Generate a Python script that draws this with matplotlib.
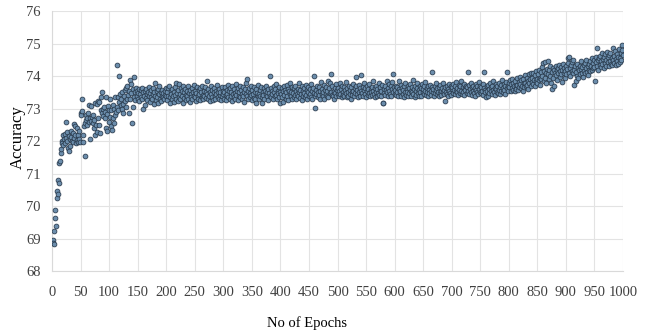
"""
Accuracy per epoch scatter chart
"""

import matplotlib
matplotlib.use("Agg")
import matplotlib.pyplot as plt
import numpy as np

# accuracy values, one per epoch, in blocks of 100
acc_001_100 = [68.95, 68.86, 68.82, 69.22, 69.88, 69.64, 69.40, 70.45, 70.26, 70.36,
               70.80, 70.72, 71.32, 71.38, 71.62, 71.75, 72.00, 71.93, 72.18, 71.88,
               72.05, 71.95, 72.22, 72.10, 72.58, 72.00, 72.28, 71.80, 72.15, 71.70,
               72.05, 71.85, 72.30, 72.12, 72.00, 72.25, 71.98, 72.52, 72.08, 72.45,
               72.20, 71.95, 72.40, 72.02, 72.18, 71.98, 72.30, 72.05, 71.97, 72.85,
               72.80, 73.28, 72.92, 71.98, 72.20, 72.45, 71.55, 72.55, 72.80, 72.65,
               72.50, 72.72, 72.85, 72.60, 73.10, 72.70, 72.05, 72.62, 73.08, 72.75,
               72.55, 72.80, 72.40, 72.65, 72.20, 73.18, 72.48, 73.15, 72.28, 72.72,
               73.22, 72.50, 73.20, 72.25, 72.95, 73.35, 72.85, 73.50, 72.78, 72.98,
               73.05, 72.70, 72.90, 73.35, 72.40, 72.82, 72.30, 73.08, 72.95, 72.60]
acc_101_200 = [72.75, 73.30, 72.45, 72.95, 72.35, 73.10, 72.70, 72.55, 73.00, 72.80,
               73.35, 72.90, 74.34, 73.05, 73.35, 72.95, 74.00, 73.20, 73.45, 73.10,
               73.28, 73.00, 73.50, 73.15, 72.85, 73.40, 73.22, 73.58, 73.05, 73.62,
               73.30, 73.70, 73.42, 72.86, 73.55, 73.88, 73.30, 73.75, 73.48, 72.55,
               73.60, 73.05, 73.35, 73.98, 73.50, 73.25, 73.62, 73.40, 73.55, 73.30,
               73.48, 73.60, 73.22, 73.45, 73.58, 73.35, 73.62, 73.28, 73.50, 73.00,
               73.40, 73.10, 73.55, 73.32, 73.60, 73.45, 73.25, 73.52, 73.38, 73.65,
               73.20, 73.48, 73.35, 73.58, 73.28, 73.45, 73.62, 73.15, 73.50, 73.78,
               73.40, 73.25, 73.55, 73.35, 73.60, 73.18, 73.45, 73.68, 73.30, 73.52,
               73.22, 73.40, 73.58, 73.35, 73.48, 73.28, 73.55, 73.42, 73.62, 73.38]
acc_201_300 = [73.50, 73.25, 73.62, 73.40, 73.70, 73.35, 73.18, 73.55, 73.45, 73.28,
               73.60, 73.38, 73.52, 73.20, 73.65, 73.42, 73.30, 73.80, 73.48, 73.22,
               73.58, 73.35, 73.75, 73.45, 73.28, 73.62, 73.40, 73.55, 73.18, 73.70,
               73.50, 73.32, 73.60, 73.42, 73.25, 73.55, 73.38, 73.68, 73.30, 73.48,
               73.20, 73.58, 73.45, 73.35, 73.62, 73.28, 73.52, 73.40, 73.72, 73.35,
               73.55, 73.22, 73.48, 73.65, 73.38, 73.30, 73.58, 73.45, 73.25, 73.62,
               73.50, 73.35, 73.70, 73.42, 73.28, 73.55, 73.40, 73.65, 73.32, 73.50,
               73.85, 73.45, 73.30, 73.60, 73.38, 73.52, 73.22, 73.68, 73.45, 73.35,
               73.58, 73.25, 73.50, 73.62, 73.40, 73.30, 73.55, 73.45, 73.72, 73.35,
               73.52, 73.28, 73.60, 73.42, 73.50, 73.25, 73.65, 73.38, 73.55, 73.45]
acc_301_400 = [73.50, 73.30, 73.65, 73.42, 73.25, 73.58, 73.45, 73.72, 73.35, 73.55,
               73.28, 73.62, 73.40, 73.50, 73.22, 73.68, 73.45, 73.35, 73.60, 73.48,
               73.30, 73.75, 73.42, 73.55, 73.25, 73.62, 73.38, 73.50, 73.70, 73.35,
               73.58, 73.28, 73.45, 73.65, 73.40, 73.52, 73.20, 73.60, 73.45, 73.78,
               73.90, 73.38, 73.55, 73.30, 73.62, 73.48, 73.35, 73.70, 73.42, 73.25,
               73.58, 73.45, 73.65, 73.32, 73.50, 73.28, 73.60, 73.16, 73.48, 73.38,
               73.72, 73.45, 73.30, 73.58, 73.40, 73.65, 73.35, 73.17, 73.52, 73.42,
               73.62, 73.28, 73.55, 73.45, 73.70, 73.38, 73.50, 73.25, 73.60, 73.48,
               74.01, 73.40, 73.62, 73.35, 73.55, 73.45, 73.28, 73.68, 73.50, 73.38,
               73.60, 73.42, 73.75, 73.30, 73.55, 73.48, 73.65, 73.35, 73.16, 73.52]
acc_401_500 = [73.45, 73.62, 73.35, 73.55, 73.20, 73.68, 73.42, 73.58, 73.30, 73.50,
               73.72, 73.40, 73.60, 73.25, 73.55, 73.45, 73.78, 73.38, 73.52, 73.30,
               73.65, 73.48, 73.35, 73.62, 73.42, 73.70, 73.28, 73.55, 73.45, 73.60,
               73.38, 73.80, 73.50, 73.32, 73.58, 73.45, 73.68, 73.25, 73.55, 73.40,
               73.62, 73.48, 73.35, 73.72, 73.42, 73.58, 73.30, 73.65, 73.50, 73.38,
               73.60, 73.45, 73.75, 73.35, 73.55, 73.28, 73.62, 74.00, 73.48, 73.40,
               73.02, 73.58, 73.45, 73.70, 73.35, 73.52, 73.42, 73.65, 73.30, 73.55,
               73.82, 73.45, 73.60, 73.38, 73.50, 73.72, 73.28, 73.58, 73.45, 73.65,
               73.40, 73.55, 73.85, 73.35, 73.62, 73.48, 73.78, 74.06, 73.50, 73.42,
               73.68, 73.38, 73.55, 73.30, 73.62, 73.48, 73.75, 73.40, 73.58, 73.45]
acc_501_600 = [73.62, 73.40, 73.55, 73.78, 73.45, 73.60, 73.35, 73.70, 73.50, 73.42,
               73.65, 73.38, 73.58, 73.82, 73.48, 73.35, 73.62, 73.52, 73.40, 73.70,
               73.45, 73.58, 73.30, 73.65, 73.50, 73.42, 73.75, 73.55, 73.38, 73.62,
               73.48, 73.68, 73.98, 73.45, 73.58, 73.35, 73.72, 73.50, 73.62, 73.40,
               73.55, 74.03, 73.48, 73.65, 73.38, 73.58, 73.80, 73.45, 73.62, 73.35,
               73.55, 73.70, 73.42, 73.60, 73.48, 73.75, 73.38, 73.58, 73.50, 73.65,
               73.42, 73.55, 73.85, 73.45, 73.62, 73.35, 73.70, 73.52, 73.40, 73.60,
               73.48, 73.78, 73.42, 73.58, 73.65, 73.38, 73.55, 73.72, 73.16, 73.18,
               73.60, 73.48, 73.70, 73.42, 73.58, 73.85, 73.50, 73.62, 73.40, 73.75,
               73.55, 73.45, 73.68, 73.38, 73.60, 73.82, 74.05, 73.52, 73.65, 73.45]
acc_601_700 = [73.58, 73.42, 73.70, 73.50, 73.65, 73.38, 73.60, 73.85, 73.48, 73.55,
               73.40, 73.72, 73.62, 73.45, 73.58, 73.35, 73.68, 73.50, 73.80, 73.42,
               73.60, 73.52, 73.70, 73.38, 73.62, 73.48, 73.75, 73.55, 73.40, 73.65,
               73.50, 73.88, 73.45, 73.60, 73.35, 73.70, 73.55, 73.42, 73.62, 73.78,
               73.48, 73.58, 73.40, 73.68, 73.52, 73.62, 73.38, 73.75, 73.50, 73.60,
               73.45, 73.70, 73.55, 73.82, 73.42, 73.62, 73.50, 73.68, 73.38, 73.58,
               73.48, 73.72, 73.55, 73.42, 73.65, 74.12, 73.52, 73.60, 73.40, 73.70,
               73.48, 73.58, 73.78, 73.45, 73.62, 73.52, 73.38, 73.65, 73.48, 73.72,
               73.55, 73.42, 73.62, 73.50, 73.80, 73.45, 73.58, 73.22, 73.65, 73.52,
               73.70, 73.45, 73.60, 73.38, 73.75, 73.55, 73.48, 73.68, 73.42, 73.60]
acc_701_800 = [73.65, 73.48, 73.75, 73.58, 73.45, 73.70, 73.55, 73.82, 73.50, 73.62,
               73.42, 73.72, 73.58, 73.48, 73.68, 73.55, 73.85, 73.45, 73.65, 73.52,
               73.75, 73.42, 73.62, 73.58, 73.70, 73.48, 73.65, 74.12, 73.55, 73.45,
               73.72, 73.60, 73.50, 73.78, 73.42, 73.65, 73.55, 73.70, 73.48, 73.62,
               73.40, 73.75, 73.58, 73.50, 73.68, 73.45, 73.82, 73.60, 73.52, 73.70,
               73.48, 73.65, 73.55, 73.75, 73.42, 73.62, 74.12, 73.58, 73.50, 73.34,
               73.68, 73.55, 73.40, 73.72, 73.60, 73.48, 73.78, 73.55, 73.65, 73.45,
               73.70, 73.58, 73.85, 73.50, 73.62, 73.42, 73.75, 73.60, 73.52, 73.68,
               73.48, 73.80, 73.58, 73.65, 73.45, 73.72, 73.55, 73.88, 73.62, 73.50,
               73.75, 73.58, 73.68, 73.45, 73.82, 74.13, 73.62, 73.70, 73.55, 73.78]
acc_801_900 = [73.65, 73.88, 73.55, 73.75, 73.62, 73.92, 73.58, 73.80, 73.68, 73.55,
               73.85, 73.70, 73.60, 73.95, 73.72, 73.58, 73.82, 73.65, 73.98, 73.75,
               73.62, 73.88, 73.70, 73.55, 73.92, 73.78, 73.65, 74.02, 73.80, 73.68,
               73.95, 73.72, 73.85, 73.60, 74.05, 73.78, 73.90, 73.70, 74.08, 73.82,
               73.95, 73.75, 74.10, 73.88, 73.68, 74.02, 73.85, 74.15, 73.92, 73.78,
               74.05, 73.88, 74.20, 73.95, 73.72, 74.12, 73.90, 74.28, 74.00, 74.39,
               73.85, 74.15, 74.42, 73.95, 74.10, 73.78, 74.22, 74.05, 74.47, 73.92,
               74.18, 74.30, 74.00, 73.80, 73.59, 74.12, 74.25, 73.95, 74.20, 73.70,
               74.08, 74.32, 74.02, 74.18, 73.88, 74.25, 74.10, 74.35, 73.98, 74.15,
               74.28, 74.05, 73.82, 74.20, 74.38, 74.10, 74.25, 73.95, 74.15, 74.30]
acc_901_1000 = [74.05, 74.22, 74.40, 74.54, 74.10, 74.58, 74.25, 74.00, 74.35, 74.15,
                74.42, 74.08, 74.50, 73.72, 74.20, 74.30, 73.85, 74.12, 74.38, 74.00,
                74.25, 73.95, 74.18, 74.32, 74.05, 74.22, 74.45, 74.10, 74.28, 73.98,
                74.35, 74.15, 74.40, 74.08, 74.25, 74.48, 74.12, 74.30, 74.02, 74.38,
                74.20, 74.45, 74.15, 74.32, 74.55, 74.18, 74.40, 74.25, 74.50, 74.28,
                73.86, 74.42, 74.58, 74.85, 74.30, 74.48, 74.20, 74.55, 74.35, 74.62,
                74.28, 74.45, 74.70, 74.38, 74.52, 74.25, 74.60, 74.40, 74.68, 74.32,
                74.50, 74.75, 74.42, 74.58, 74.30, 74.65, 74.45, 74.72, 74.38, 74.55,
                74.35, 74.85, 74.48, 74.62, 74.40, 74.78, 74.52, 74.35, 74.68, 74.45,
                74.60, 74.38, 74.82, 74.55, 74.42, 74.72, 74.50, 74.95, 74.80, 74.65]

x_ticks = list(range(0, 1001, 50))
y_ticks = [68, 69, 70, 71, 72, 73, 74, 75, 76]

accuracy = np.concatenate([acc_001_100, acc_101_200, acc_201_300, acc_301_400,
                           acc_401_500, acc_501_600, acc_601_700, acc_701_800,
                           acc_801_900, acc_901_1000])
epochs = np.arange(1, len(accuracy) + 1)

plt.rcParams['font.family'] = ['Liberation Serif', 'DejaVu Serif']

fig = plt.figure(figsize=(6.51, 3.34), dpi=100)
ax = fig.add_axes([0.0799, 0.1886, 0.8771, 0.7784])

ax.scatter(epochs, accuracy, s=12, color='#6b8dac', edgecolors='#27384a',
           linewidths=0.55, zorder=3)

ax.set_xlim(0, 1000)
ax.set_ylim(68, 76)
ax.set_xticks(x_ticks)
ax.set_yticks(y_ticks)
ax.grid(True, color='#e3e3e3', linewidth=0.8, zorder=0)
for side in ['top', 'right']:
    ax.spines[side].set_visible(False)
for side in ['left', 'bottom']:
    ax.spines[side].set_color('#d9d9d9')
    ax.spines[side].set_linewidth(0.8)
ax.tick_params(axis='both', length=0, labelsize=10.5, labelcolor='#404040')
ax.tick_params(axis='x', pad=11)
ax.tick_params(axis='y', pad=8)

ax.set_xlabel('No of Epochs', fontsize=10.5, va='center')
ax.xaxis.set_label_coords(0.447, -0.2)
ax.set_ylabel('Accuracy', fontsize=12, va='center')
ax.yaxis.set_label_coords(-0.06, 0.515)

plt.savefig('out.png', dpi=100)
plt.close()
